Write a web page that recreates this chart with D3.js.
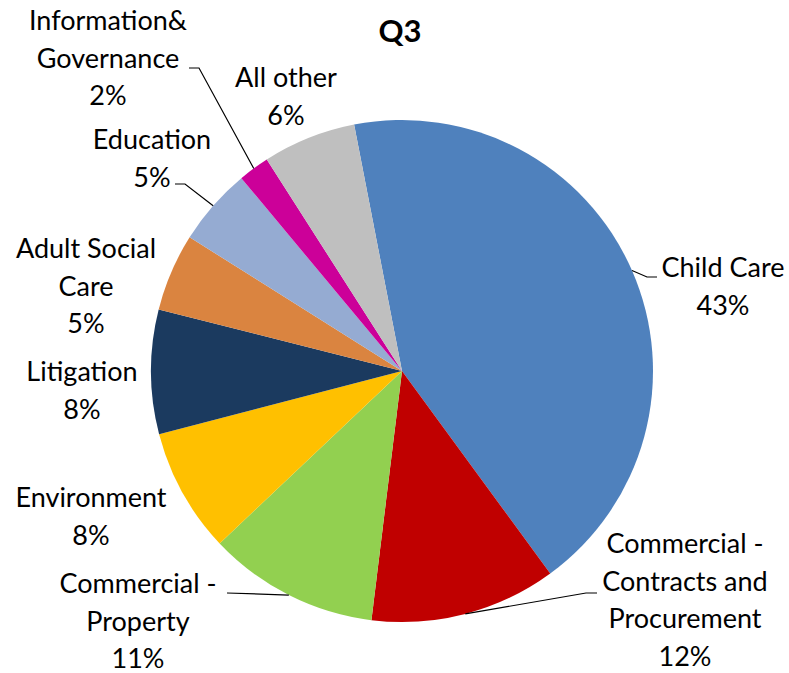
<!DOCTYPE html>
<html>
<head>
<meta charset="utf-8">
<script src="https://cdn.jsdelivr.net/npm/d3@7"></script>
<style>
  html, body { margin: 0; padding: 0; background: #fff; }
  svg text { font-family: Lato, "Open Sans", sans-serif; fill: #000; }
</style>
</head>
<body>
<svg id="chart" width="789" height="673"></svg>
<script>
// Share of caseload by area, Q3 (percent)
const categories = [
  "Child Care",
  "Commercial - Contracts and Procurement",
  "Commercial - Property",
  "Environment",
  "Litigation",
  "Adult Social Care",
  "Education",
  "Information& Governance",
  "All other"
];
const values = [43, 12, 11, 8, 8, 5, 5, 2, 6];
const labelLines = [
  ["Child Care"],
  ["Commercial -", "Contracts and", "Procurement"],
  ["Commercial -", "Property"],
  ["Environment"],
  ["Litigation"],
  ["Adult Social", "Care"],
  ["Education"],
  ["Information&", "Governance"],
  ["All other"]
];
const colors = ["#4F81BD", "#C00000", "#92D050", "#FFC000", "#1B3A5F",
                "#DA8440", "#95ABD2", "#CC0099", "#BFBFBF"];

// Label placement: text centre x, first baseline y, and optional leader elbow points
const labelLayout = [
  { x: 723, y: 277, leader: [[647, 277], [657, 277]] },
  { x: 685, y: 553, leader: [[586, 593], [597, 593]] },
  { x: 138, y: 593, leader: [[227, 593]] },
  { x: 91,  y: 507 },
  { x: 82,  y: 381 },
  { x: 86,  y: 258 },
  { x: 152, y: 149, leader: [[185, 184], [175, 184]] },
  { x: 108, y: 30,  leader: [[199, 68], [189, 68]] },
  { x: 286, y: 87 }
];

const width = 789, height = 673;
const cx = 402, cy = 371, radius = 251;
const lineGap = 37.5;

const svg = d3.select("#chart");

svg.append("text")
  .attr("x", 400).attr("y", 42)
  .attr("text-anchor", "middle")
  .style("font-size", "31px")
  .style("font-weight", "bold")
  .text("Q3");

const pie = d3.pie()
  .sort(null)
  .value(d => d)
  .startAngle(-11 * Math.PI / 180)
  .endAngle((360 - 11) * Math.PI / 180);

const arcs = pie(values);
const arc = d3.arc().innerRadius(0).outerRadius(radius);

const g = svg.append("g").attr("transform", `translate(${cx},${cy})`);

g.selectAll("path.slice")
  .data(arcs)
  .join("path")
  .attr("class", "slice")
  .attr("d", arc)
  .attr("fill", (d, i) => colors[i]);

// Leader lines start on the rim at each slice's mid angle
const line = d3.line();
arcs.forEach((d, i) => {
  const lay = labelLayout[i];
  if (!lay.leader) return;
  const mid = (d.startAngle + d.endAngle) / 2;
  const start = [cx + radius * Math.sin(mid), cy - radius * Math.cos(mid)];
  svg.append("path")
    .attr("d", line([start, ...lay.leader]))
    .attr("fill", "none")
    .attr("stroke", "#000")
    .attr("stroke-width", 1.2);
});

// Category labels with percentage
arcs.forEach((d, i) => {
  const lay = labelLayout[i];
  const lines = [...labelLines[i], values[i] + "%"];
  const t = svg.append("text")
    .attr("text-anchor", "middle")
    .style("font-size", "27px");
  lines.forEach((s, k) => {
    t.append("tspan")
      .attr("x", lay.x)
      .attr("y", lay.y + k * lineGap)
      .text(s);
  });
});
</script>
</body>
</html>
